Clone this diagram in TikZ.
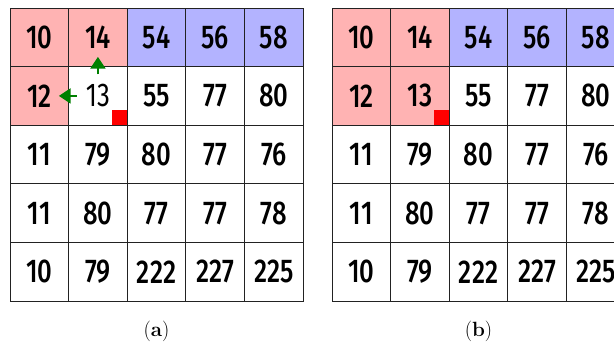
\documentclass[tikz,border=0pt]{standalone}
\usepackage{fontspec}
\usetikzlibrary{arrows.meta, backgrounds}
\newfontfamily\cellfont{Fira Sans}[FakeStretch=0.78, UprightFont={* Medium}]
\newfontfamily\lightfont{Fira Sans}[FakeStretch=0.78]
\definecolor{cellpink}{HTML}{FFB3B3}
\definecolor{cellblue}{HTML}{B3B3FF}
\definecolor{hotred}{HTML}{FF0000}
\definecolor{movegreen}{HTML}{008000}
\definecolor{gridline}{HTML}{222222}

\begin{document}
\begin{tikzpicture}[
      x=1.5cm,
      y=-1.5cm,
      cell/.style={draw=gridline, line width=0.7pt, minimum size=1.5cm,
        inner sep=0pt, outer sep=0pt,
        font=\fontsize{24}{28}\selectfont\cellfont},
      caption/.style={font=\fontsize{15}{18}\selectfont},
      hotspot/.style={fill=hotred, minimum size=0.38cm, inner sep=0pt,
        outer sep=0pt, anchor=south east},
      move/.style={-{Triangle[length=0.3cm, width=0.38cm]},
        line width=1.6pt, draw=movegreen}
  ]
    \useasboundingbox (0,0) rectangle (10.478,5.922);
    \clip (0,0) rectangle (10.478,5.922);
    % both grids hold the same values
    \foreach \g/\gx/\thin in {a/0.171/22, b/5.666/0} {
      \foreach \row [count=\r] in {{10,14,54,56,58},{12,13,55,77,80},
          {11,79,80,77,76},{11,80,77,77,78},{10,79,222,227,225}} {
        \foreach \val [count=\c] in \row {
          \node[cell] (\g-\r-\c) at (\gx+\c-0.5, 0.137+\r-0.5)
            {\ifnum\r\c=\thin\relax\lightfont\fi\val};
        }
      }
      \node[caption] (cap-\g) at (\gx+2.5, 5.66) {(\textbf{\g})};
      \node[hotspot] (hot-\g) at (\g-2-2.south east) {};
    }
    \begin{scope}[on background layer]
      \fill[cellpink] (a-1-1.north west) rectangle (a-1-2.south east);
      \fill[cellpink] (a-2-1.north west) rectangle (a-2-1.south east);
      \fill[cellblue] (a-1-3.north west) rectangle (a-1-5.south east);
      \fill[cellpink] (b-1-1.north west) rectangle (b-2-2.south east);
      \fill[cellblue] (b-1-3.north west) rectangle (b-1-5.south east);
    \end{scope}
    % neighbours of the centre cell
    \coordinate (up-tail) at ([yshift=0.55cm]a-2-2.center);
    \coordinate (up-tip) at ([yshift=1cm]a-2-2.center);
    \coordinate (left-tail) at ([xshift=-0.54cm]a-2-2.center);
    \coordinate (left-tip) at ([xshift=-1cm]a-2-2.center);
    \draw[move] (up-tail) -- (up-tip);
    \draw[move] (left-tail) -- (left-tip);
  \end{tikzpicture}
\end{document}
